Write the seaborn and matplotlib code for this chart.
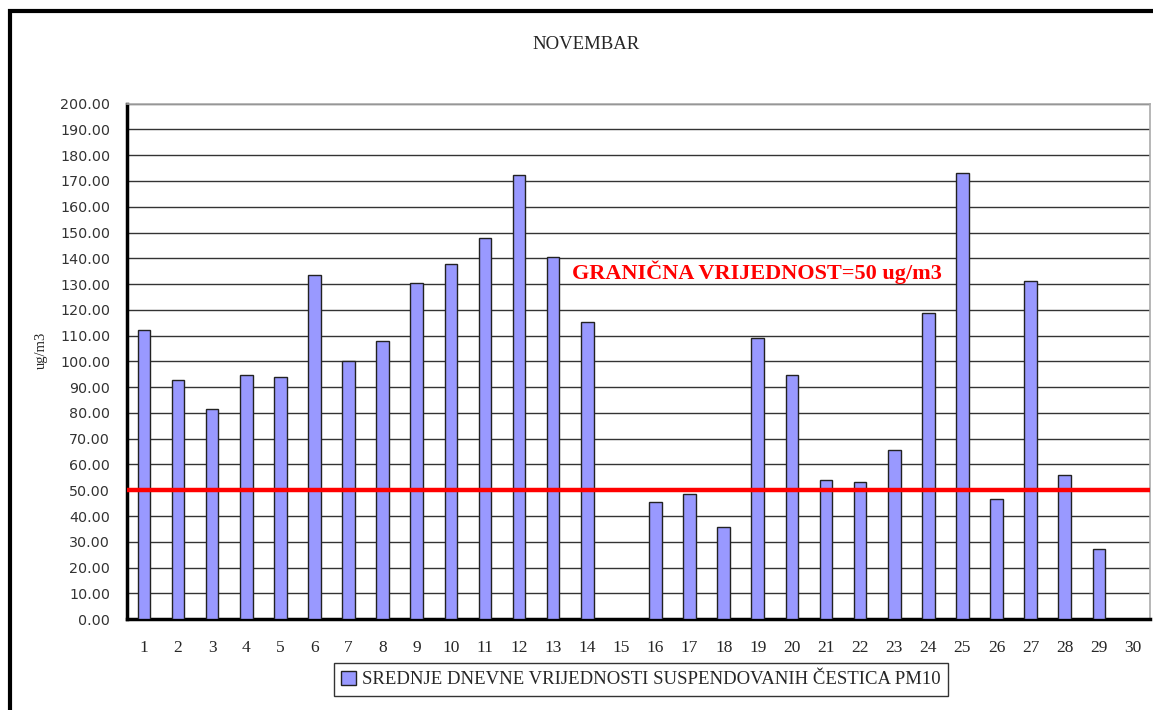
import numpy as np
import pandas as pd
import seaborn as sns
import matplotlib.pyplot as plt
from matplotlib.patches import Rectangle

# daily PM10 means for November (15 and 30 missing)
days = [str(d) for d in range(1, 31)]
pm10 = [112.1, 92.7, 81.5, 94.9, 94.1, 133.6, 100.0, 108.0, 130.6, 137.7,
        147.8, 172.4, 140.5, 115.3, np.nan, 45.3, 48.5, 35.6, 108.9, 94.6,
        53.8, 53.3, 65.7, 118.6, 173.0, 46.8, 131.1, 56.0, 27.2, np.nan]
limit_value = 50
limit_label = "GRANIČNA VRIJEDNOST=50 ug/m3"
series_label = "SREDNJE DNEVNE VRIJEDNOSTI SUSPENDOVANIH ČESTICA PM10"
title = "NOVEMBAR"

df = pd.DataFrame({"day": days, "pm10": pm10})

sns.set_style("white")
plt.rcParams["font.family"] = ["DejaVu Sans"]

fig = plt.figure(figsize=(11.53, 7.10), dpi=100)
ax = fig.add_axes([0.110, 0.128, 0.8874, 0.726])

sns.barplot(data=df, x="day", y="pm10", order=days, color="#9999FF",
            saturation=1, width=0.37, edgecolor="#222222", linewidth=1.0,
            label=series_label, ax=ax, zorder=3)

ax.set_ylim(0, 200)
ax.set_xlim(-0.5, len(days) - 0.5)
ax.set_yticks(np.arange(0, 201, 10))
ax.set_yticklabels([f"{v:.2f}" for v in np.arange(0, 201, 10)], fontsize=10.3,
                   color="#333333")
ax.set_xticks(np.arange(len(days) + 1) - 0.5, minor=False)
ax.set_xticklabels([])
ax.set_xticks(np.arange(len(days)), minor=True)
ax.set_xticklabels(days, minor=True, fontsize=12.5, family="Liberation Serif")
ax.tick_params(axis="x", which="minor", length=0, pad=15)
ax.tick_params(axis="x", which="major", length=6, width=2, direction="out")
ax.tick_params(axis="y", length=6, width=2, direction="out", pad=6)

ax.yaxis.grid(True, color="#333333", linewidth=1.0, zorder=0)
ax.set_axisbelow(True)
for side in ["top", "right"]:
    ax.spines[side].set_color("#aaaaaa")
    ax.spines[side].set_linewidth(1.2)
for side in ["left", "bottom"]:
    ax.spines[side].set_color("black")
    ax.spines[side].set_linewidth(2.5)

ax.axhline(limit_value, color="#ff0000", linewidth=3.2, zorder=4)
ax.text(12.55, 134.6, limit_label, color="#ff0000", fontsize=16,
        fontweight="bold", family="Liberation Serif", va="center", ha="left",
        zorder=5)

ax.set_xlabel("")
ax.set_ylabel("ug/m3", family="Liberation Serif", fontsize=10.5)
ax.yaxis.set_label_coords(-0.077, 0.522)
fig.text(0.508, 0.937, title, family="Liberation Serif", fontsize=13.5,
         ha="center", va="center")

leg = ax.legend(loc="center", bbox_to_anchor=(0.556, 0.043),
                bbox_transform=fig.transFigure, frameon=True, fancybox=False,
                handlelength=0.75, handleheight=0.75, handletextpad=0.35,
                borderpad=0.4, prop={"family": "Liberation Serif", "size": 13.5})
leg.get_frame().set_edgecolor("black")
leg.get_frame().set_linewidth(1.0)

# outer chart frame
fig.patches.append(Rectangle((0.0087, -0.1), 1.2, 1.0845, transform=fig.transFigure,
                             fill=False, edgecolor="black", linewidth=3))

fig.savefig("out.png", dpi=100)
